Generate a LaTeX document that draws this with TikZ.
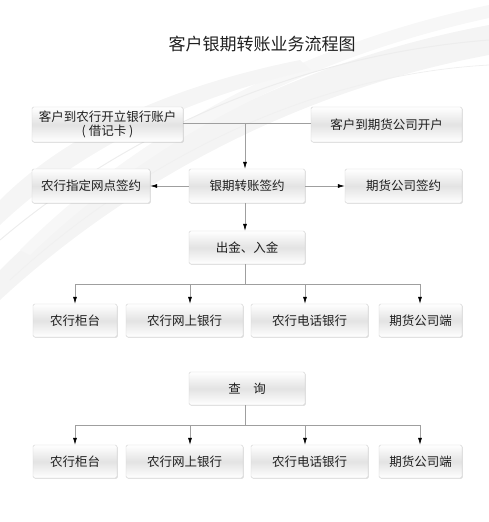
\documentclass[tikz,border=0pt]{standalone}
\usepackage{fontspec}
\setmainfont{Noto Sans CJK SC}
\usetikzlibrary{arrows.meta,shadows}
\begin{document}
\begin{tikzpicture}[x=1pt,y=-1pt,
  fbox/.style={draw=gray!35, rounded corners=1.5pt, top color=white, bottom color=white, middle color=gray!22,
    minimum height=34pt, inner sep=1pt, font=\fontsize{12.5pt}{14.5pt}\selectfont, text=black!88, align=center,
    drop shadow={shadow xshift=0.8pt, shadow yshift=-0.8pt, opacity=0.25}},
  conn/.style={draw=gray!75, line width=0.6pt},
  arr/.style={conn, -{Latex[length=7pt,width=4pt,black]}}]
\useasboundingbox (0,0) rectangle (489,522);
% background swooshes
\fill[gray!9] (0,270) .. controls (120,150) and (300,60) .. (489,25) -- (489,55) .. controls (300,90) and (130,180) .. (0,300) -- cycle;
\fill[gray!6] (20,250) .. controls (150,120) and (320,40) .. (489,5) -- (489,18) .. controls (320,55) and (160,130) .. (30,255) -- cycle;
\fill[gray!8] (0,200) .. controls (80,120) and (200,80) .. (300,60) -- (310,70) .. controls (200,95) and (90,140) .. (0,225) -- cycle;
\draw[gray!14, line width=1pt] (0,240) .. controls (130,130) and (300,55) .. (489,40);
\draw[gray!12, line width=0.8pt] (10,280) .. controls (140,160) and (310,75) .. (489,65);
% title
\node[font=\fontsize{17pt}{20pt}\selectfont, text=black!88] (title) at (262,44) {客户银期转账业务流程图};
% row 1
\node[fbox, minimum width=151pt, minimum height=35pt] (A) at (107.5,124.5) {客户到农行开立银行账户\\(\ 借记卡\ )};
\node[fbox, minimum width=151pt, minimum height=35pt] (B) at (386.5,124.5) {客户到期货公司开户};
% row 2
\node[fbox, minimum width=118pt] (D) at (91,186) {农行指定网点签约};
\node[fbox, minimum width=116pt] (C) at (247,186) {银期转账签约};
\node[fbox, minimum width=117pt] (E) at (403.5,186) {期货公司签约};
% row 3
\node[fbox, minimum width=116pt, minimum height=33pt] (F) at (247,247.5) {出金、入金};
% row 4
\node[fbox, minimum width=84pt, minimum height=33pt] (g1) at (75,320.5) {农行柜台};
\node[fbox, minimum width=117pt, minimum height=33pt] (g2) at (184.5,320.5) {农行网上银行};
\node[fbox, minimum width=117pt, minimum height=33pt] (g3) at (309.5,320.5) {农行电话银行};
\node[fbox, minimum width=83pt, minimum height=33pt] (g4) at (420.5,320.5) {期货公司端};
% query
\node[fbox, minimum width=116pt, minimum height=33pt] (Q) at (247,388.5) {查\hspace{1em}询};
% row 6
\node[fbox, minimum width=84pt, minimum height=33pt] (h1) at (75,461.5) {农行柜台};
\node[fbox, minimum width=117pt, minimum height=33pt] (h2) at (184.5,461.5) {农行网上银行};
\node[fbox, minimum width=117pt, minimum height=33pt] (h3) at (309.5,461.5) {农行电话银行};
\node[fbox, minimum width=83pt, minimum height=33pt] (h4) at (420.5,461.5) {期货公司端};
% connectors
\coordinate (j1) at (245,123.5);
\draw[conn] (A.east |- j1) -- (B.west |- j1);
\draw[arr] (j1) -- (C.north -| j1);
\draw[arr] (C.west) -- (D.east);
\draw[arr] (C.east) -- (E.west);
\draw[arr] (C.south -| j1) -- (F.north -| j1);
% bus 1
\coordinate (b1) at (75,284);
\coordinate (b2) at (190,284);
\coordinate (b3) at (305,284);
\coordinate (b4) at (420,284);
\draw[conn] (F.south -| j1) -- (j1 |- b1);
\draw[conn] (b1) -- (b4);
\draw[arr] (b1) -- (g1.north -| b1);
\draw[arr] (b2) -- (g2.north -| b2);
\draw[arr] (b3) -- (g3.north -| b3);
\draw[arr] (b4) -- (g4.north -| b4);
% bus 2
\coordinate (c1) at (75,425);
\coordinate (c2) at (190,425);
\coordinate (c3) at (305,425);
\coordinate (c4) at (420,425);
\draw[conn] (Q.south -| j1) -- (j1 |- c1);
\draw[conn] (c1) -- (c4);
\draw[arr] (c1) -- (h1.north -| c1);
\draw[arr] (c2) -- (h2.north -| c2);
\draw[arr] (c3) -- (h3.north -| c3);
\draw[arr] (c4) -- (h4.north -| c4);
\end{tikzpicture}
\end{document}
